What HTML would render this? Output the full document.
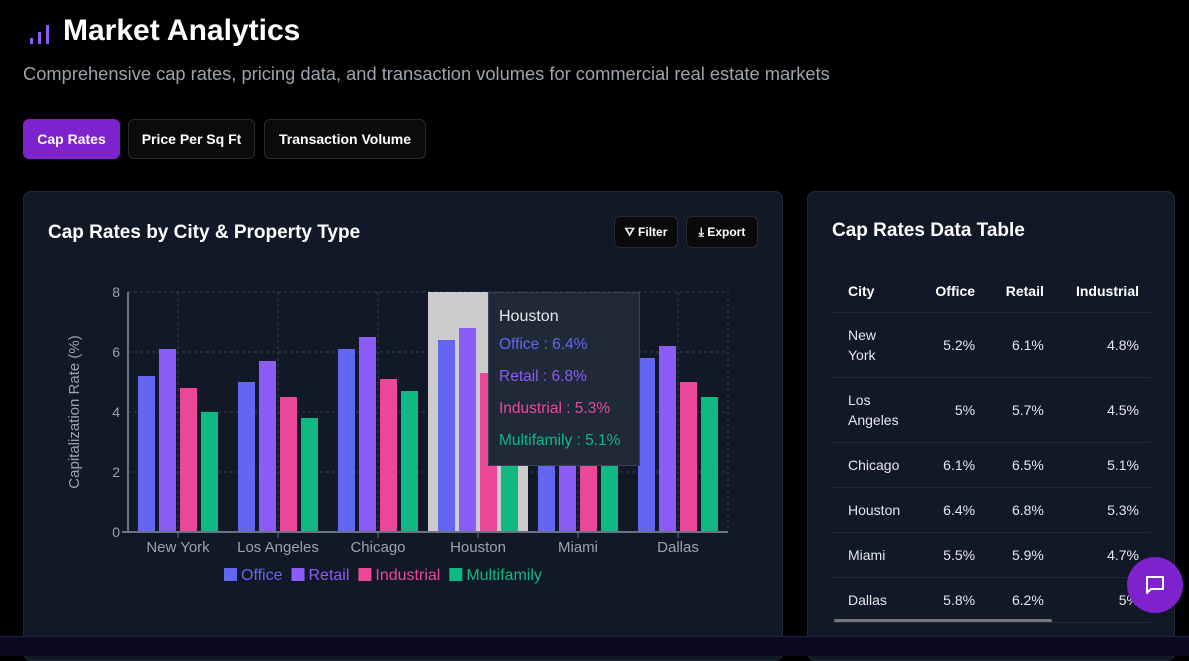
<!DOCTYPE html>
<html><head><meta charset="utf-8">
<style>
*{box-sizing:border-box;margin:0;padding:0}
body{width:1189px;height:656px;background:#000;overflow:hidden;position:relative;font-family:"Liberation Sans","DejaVu Sans",sans-serif;color:#fff}
.abs{position:absolute}
.btn{position:absolute;top:119px;height:40px;border-radius:6px;font-size:14px;font-weight:bold;display:flex;align-items:center;justify-content:center;border:1px solid #2a2a2e;background:#0b0b0d;color:#fff}
.card{position:absolute;top:191px;background:#111827;border:1px solid #1f2937;border-radius:8px}
.sbtn{position:absolute;top:216px;height:32px;border-radius:6px;background:#0a0a0a;border:1px solid #2a2a2e;font-size:12px;font-weight:bold;display:flex;align-items:center;justify-content:center;gap:5px}
table{position:absolute;left:832px;top:270px;width:318px;border-collapse:collapse;font-size:14px}
td,th{border-bottom:1px solid #1f2937;padding:0 11px 0 16px;line-height:20px}
th{height:42px;text-align:right;font-weight:bold}
td{text-align:right;color:#e5e7eb}
td:first-child,th:first-child{text-align:left}
</style></head><body>
<div class="abs" style="left:28px;top:21px;width:24px;height:24px">
<svg width="24" height="24"><rect x="2" y="17" width="3" height="6" fill="#8b5cf6"/><rect x="10" y="11" width="3" height="12" fill="#8b5cf6"/><rect x="18" y="4" width="3" height="19" fill="#8b5cf6"/></svg></div>
<div class="abs" style="left:63px;top:14px;font-size:30px;font-weight:bold">Market Analytics</div>
<div class="abs" style="left:23px;top:63px;font-size:18.3px;color:#9ca3af">Comprehensive cap rates, pricing data, and transaction volumes for commercial real estate markets</div>
<div class="btn" style="left:23px;width:97px;background:#7e22ce;border-color:#7e22ce">Cap Rates</div>
<div class="btn" style="left:128px;width:127px">Price Per Sq Ft</div>
<div class="btn" style="left:264px;width:162px">Transaction Volume</div>

<div class="card" style="left:23px;width:760px;height:470px"></div>
<div class="abs" style="left:48px;top:222px;font-size:19px;font-weight:bold">Cap Rates by City &amp; Property Type</div>
<div class="sbtn" style="left:614px;width:64px">⛛ Filter</div>
<div class="sbtn" style="left:686px;width:72px">⤓ Export</div>

<svg id="chart" class="abs" style="left:0;top:0" width="800" height="620"></svg>

<div class="card" style="left:807px;width:368px;height:470px"></div>
<div class="abs" style="left:832px;top:220px;font-size:19px;font-weight:bold">Cap Rates Data Table</div>
<table>
<tr><th>City</th><th>Office</th><th>Retail</th><th>Industrial</th></tr>
<tr style="height:65px"><td>New<br>York</td><td>5.2%</td><td>6.1%</td><td>4.8%</td></tr>
<tr style="height:65px"><td>Los<br>Angeles</td><td>5%</td><td>5.7%</td><td>4.5%</td></tr>
<tr style="height:45px"><td>Chicago</td><td>6.1%</td><td>6.5%</td><td>5.1%</td></tr>
<tr style="height:45px"><td>Houston</td><td>6.4%</td><td>6.8%</td><td>5.3%</td></tr>
<tr style="height:45px"><td>Miami</td><td>5.5%</td><td>5.9%</td><td>4.7%</td></tr>
<tr style="height:45px"><td>Dallas</td><td>5.8%</td><td>6.2%</td><td>5%</td></tr>
</table>
<div class="abs" style="left:834px;top:619px;width:218px;height:3px;background:#777;border-radius:2px"></div>
<div class="abs" style="left:0;top:636px;width:1189px;height:20px;background:#0b0a1f;border-top:1px solid #1e1b4b"></div>
<div class="abs" style="left:1127px;top:557px;width:56px;height:56px;border-radius:50%;background:#7e22ce;display:flex;align-items:center;justify-content:center">
<svg width="24" height="24" viewBox="0 0 24 24"><path d="M4 4h16v12H8l-4 4z" fill="none" stroke="#fff" stroke-width="2" stroke-linejoin="round"/></svg></div>

<script>
const categories=["New York","Los Angeles","Chicago","Houston","Miami","Dallas"];
const office=[5.2,5.0,6.1,6.4,5.5,5.8];
const retail=[6.1,5.7,6.5,6.8,5.9,6.2];
const industrial=[4.8,4.5,5.1,5.3,4.7,5.0];
const multifamily=[4.0,3.8,4.7,5.1,4.4,4.5];
const yTicks=[0,2,4,6,8];
const seriesNames=["Office","Retail","Industrial","Multifamily"];
const seriesColors=["#6366f1","#8b5cf6","#ec4899","#10b981"];
const hoverIndex=3;

const svg=document.getElementById('chart');
const NS='http://www.w3.org/2000/svg';
const X0=128,X1=728,Y0=532,Y1=292,YMAX=8;
const band=(X1-X0)/categories.length;
const y=v=>Y0-(v/YMAX)*(Y0-Y1);
const xb=i=>X0+i*band;
function mk(t,a,txt){const e=document.createElementNS(NS,t);for(const k in a)e.setAttribute(k,a[k]);if(txt!==undefined)e.textContent=txt;svg.appendChild(e);return e;}
yTicks.forEach(t=>{if(t>0){const g=mk('line',{x1:X0,x2:X1,y1:y(t),y2:y(t),stroke:'#374151','stroke-dasharray':'3 3'});

}
const l=mk('text',{x:X0-8,y:y(t)+5,'text-anchor':'end',fill:'#9ca3af','font-size':14},t);

});
for(let i=0;i<=categories.length;i++){const gx=xb(i)+(i<categories.length?band/2:0);const g=mk('line',{x1:gx,x2:gx,y1:Y1,y2:Y0,stroke:'#374151','stroke-dasharray':'3 3'});

}
const hl=mk('rect',{x:xb(hoverIndex),y:Y1,width:band,height:Y0-Y1,fill:'#cccccc'});


const series=[office,retail,industrial,multifamily];
const bw=17,step=21;
categories.forEach((c,i)=>{series.forEach((s,j)=>{
const r=mk('rect',{x:xb(i)+10+j*step,y:y(s[i]),width:bw,height:Y0-y(s[i]),fill:seriesColors[j]});

});
const t=mk('text',{x:xb(i)+band/2,y:Y0+20,'text-anchor':'middle',fill:'#9ca3af','font-size':15},c);


mk('line',{x1:xb(i)+band/2,x2:xb(i)+band/2,y1:Y0,y2:Y0+6,stroke:'#6b7280'});});
mk('line',{x1:X0,x2:X0,y1:Y1,y2:Y0,stroke:'#6b7280','stroke-width':2});
mk('line',{x1:X0-6,x2:X1,y1:Y0,y2:Y0,stroke:'#6b7280','stroke-width':2});
const yt=mk('text',{transform:'rotate(-90) translate(-412,79)','text-anchor':'middle',fill:'#9ca3af','font-size':15},'Capitalization Rate (%)');


let lx=224;
seriesNames.forEach((n,j)=>{mk('rect',{x:lx,y:568,width:13,height:13,fill:seriesColors[j]});
const t=mk('text',{x:lx+17,y:580,fill:seriesColors[j],'font-size':16},n);


lx+=17+t.getComputedTextLength()+9;});
const tb=mk('rect',{x:488.5,y:292.5,width:151,height:173,fill:'#1f2937',stroke:'#374151'});


mk('text',{x:499,y:321,fill:'#e5e7eb','font-size':16},categories[hoverIndex]);
series.forEach((s,j)=>{const t=mk('text',{x:499,y:349+j*32,fill:seriesColors[j],'font-size':15.5},seriesNames[j]+' : '+s[hoverIndex]+'%');

});
</script>
</body></html>
